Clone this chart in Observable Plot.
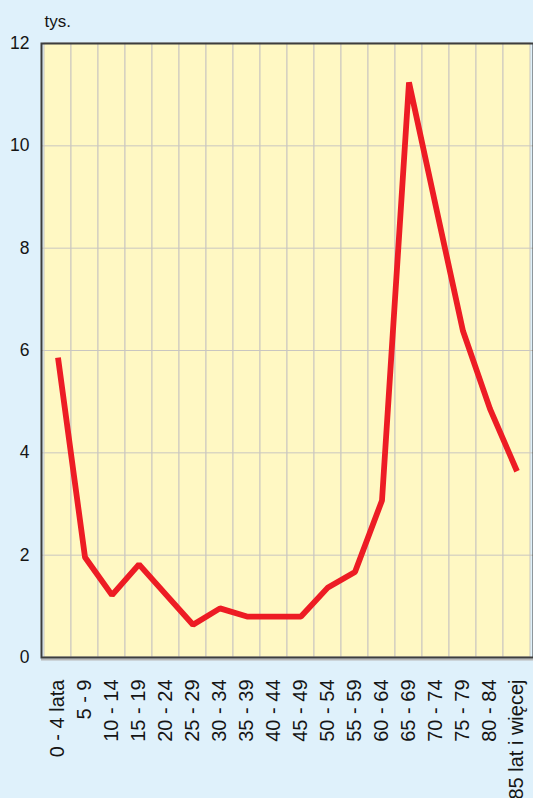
<!DOCTYPE html>
<html>
<head>
<meta charset="utf-8">
<script src="https://cdn.jsdelivr.net/npm/d3@7"></script>
<script src="https://cdn.jsdelivr.net/npm/@observablehq/plot@0.6"></script>
<style>
  html, body { margin: 0; padding: 0; background: #dff1fb; }
</style>
</head>
<body>
<div id="chart"></div>
<script>
const categories = ["0 - 4 lata", "5 - 9", "10 - 14", "15 - 19", "20 - 24", "25 - 29", "30 - 34", "35 - 39", "40 - 44", "45 - 49", "50 - 54", "55 - 59", "60 - 64", "65 - 69", "70 - 74", "75 - 79", "80 - 84", "85 lat i więcej"];
const values = [5.86, 1.96, 1.22, 1.82, 1.23, 0.64, 0.96, 0.80, 0.80, 0.80, 1.37, 1.67, 3.07, 11.24, 8.8, 6.38, 4.86, 3.64];
const yTicks = [0, 2, 4, 6, 8, 10, 12];
const unitLabel = "tys.";

const rows = categories.map((c, i) => ({category: c, value: values[i]}));
const gridColor = "#c9c6c0";

const chart = Plot.plot({
  width: 533,
  height: 798,
  marginTop: 43,
  marginLeft: 41,
  marginRight: 0,
  marginBottom: 141,
  style: {background: "#dff1fb", fontFamily: "'Liberation Sans', Arial, sans-serif", fontSize: "17px", color: "#151515"},
  x: {type: "band", domain: categories, padding: 0, axis: null},
  y: {domain: [0, 12], axis: null},
  marks: [
    Plot.barY(categories, {x: d => d, y1: 0, y2: 12, fill: "#fff8c3", stroke: gridColor, strokeWidth: 1}),
    Plot.ruleY(yTicks, {stroke: gridColor, strokeWidth: 1}),
    Plot.ruleY([0], {stroke: "#b8b8b8", strokeWidth: 2, dy: 2}),
    Plot.frame({stroke: "#3d3d3d", strokeWidth: 2, fill: null}),
    Plot.axisY({ticks: yTicks, tickSize: 0, tickPadding: 12, label: null, fontSize: 17.5}),
    Plot.axisX({tickSize: 0, tickRotate: -90, tickPadding: 22, label: null, fontSize: 20}),
    Plot.line(rows, {x: "category", y: "value", stroke: "#ed1c24", strokeWidth: 5.8, strokeLinejoin: "miter", strokeLinecap: "butt"}),
    Plot.text([unitLabel], {frameAnchor: "top-left", text: d => d, textAnchor: "start", lineAnchor: "bottom", dx: 3, dy: -17, fontSize: 17, fill: "#151515"})
  ]
});

document.getElementById("chart").appendChild(chart);
</script>
</body>
</html>
